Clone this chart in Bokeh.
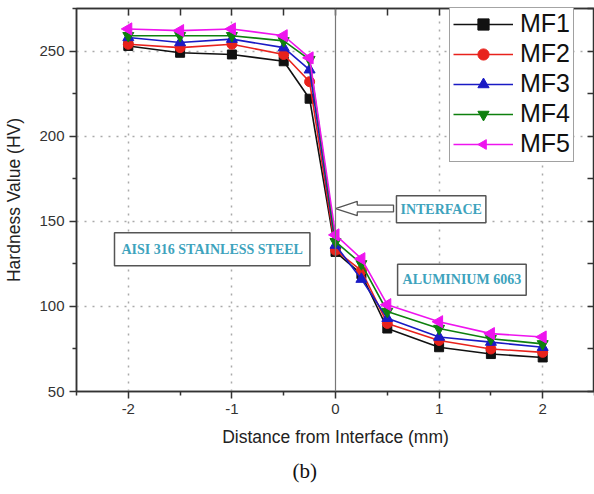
import math

from bokeh.embed import file_html
from bokeh.resources import INLINE
from bokeh.plotting import figure
from bokeh.models import (ColumnDataSource, FixedTicker, LinearAxis, Span, Label,
                          Legend, LegendItem, Title, CustomLabelingPolicy)

# Hardness profile across the AISI 316 / Al 6063 weld interface
distance = [-2, -1.5, -1, -0.5, -0.25, 0, 0.25, 0.5, 1, 1.5, 2]
mf1 = [253, 249, 248, 244, 222, 132, 119, 87, 76, 72, 70]
mf2 = [254, 252, 254, 248, 232, 133, 121, 90, 80, 75, 73]
mf3 = [258, 255, 257, 252, 239, 136, 116, 93, 82, 79, 76]
mf4 = [259, 259, 259, 256, 245, 138, 125, 97, 87, 81, 78]
mf5 = [263, 262, 263, 259, 246, 142, 128, 101, 91, 84, 82]
series_names = ["MF1", "MF2", "MF3", "MF4", "MF5"]

x_major = [-2, -1, 0, 1, 2]
x_minor = [-2.5, -1.5, -0.5, 0.5, 1.5, 2.5]
y_major = [50, 100, 150, 200, 250]
y_minor = [75, 125, 175, 225, 275]

SANS = "Liberation Sans"
SERIF = "Liberation Serif"
AXIS = "#333333"
TEAL = "#3ea3bd"
BOX = "#555555"

p = figure(width=594, height=494, x_range=(-2.5, 2.5), y_range=(50, 275),
           output_backend="svg", toolbar_location=None,
           min_border_left=76, min_border_right=0, min_border_top=8,
           min_border_bottom=103)
p.outline_line_color = AXIS
p.outline_line_width = 1.5

# bottom axis (plain hyphen for negative labels)
xa = p.xaxis[0]
xa.ticker = FixedTicker(ticks=x_major, minor_ticks=x_minor)
xa.major_label_overrides = {t: str(t) for t in x_major}
xa.axis_label = "Distance from Interface (mm)"
# left axis
ya = p.yaxis[0]
ya.ticker = FixedTicker(ticks=y_major, minor_ticks=y_minor)
ya.axis_label = "Hardness Value (HV)"
for ax in (xa, ya):
    ax.axis_line_color = AXIS
    ax.axis_line_width = 1.5
    ax.major_tick_line_color = AXIS
    ax.minor_tick_line_color = AXIS
    ax.major_tick_line_width = 1.5
    ax.minor_tick_line_width = 1.5
    ax.major_tick_in = 0
    ax.major_tick_out = 7
    ax.minor_tick_in = 0
    ax.minor_tick_out = 4
    ax.major_label_text_font = SANS
    ax.major_label_text_font_size = "15px"
    ax.major_label_text_color = "#333333"
    ax.axis_label_text_font = SANS
    ax.axis_label_text_font_size = "17.5px"
    ax.axis_label_text_font_style = "normal"
    ax.axis_label_text_color = "#222222"
xa.major_label_standoff = 5
xa.axis_label_standoff = 10
ya.major_label_standoff = 5
ya.axis_label_standoff = 12

# top and right frame axes: inward ticks only, their labels are suppressed
no_labels = CustomLabelingPolicy(code="return new Set()")
frame_axis = dict(major_label_text_font_size="0px", major_label_standoff=0,
                  major_label_policy=no_labels,
                  major_tick_in=7, major_tick_out=0, axis_line_color=AXIS,
                  axis_line_width=1.5, major_tick_line_color=AXIS,
                  major_tick_line_width=1.5)
top = LinearAxis(ticker=FixedTicker(ticks=[-2, -1.5, -1, -0.5, 0, 0.5, 1, 1.5, 2], minor_ticks=[]),
                 **frame_axis)
right = LinearAxis(ticker=FixedTicker(ticks=y_major + y_minor, minor_ticks=[]), **frame_axis)
p.add_layout(top, "above")
p.add_layout(right, "right")

# dotted grid
p.xgrid.ticker = FixedTicker(ticks=[-2, -1, 1, 2])
p.ygrid.ticker = FixedTicker(ticks=[100, 150, 200, 250])
for g in (p.xgrid[0], p.ygrid[0]):
    g.grid_line_color = "#aaaaaa"
    g.grid_line_dash = "2 6"
    g.grid_line_width = 1.5
p.add_layout(Span(location=0, dimension="height", line_color="#777777", line_width=1.2))

# caption below the axis title
p.add_layout(Title(text="(b)", align="left", offset=216, standoff=14,
                   text_font=SERIF, text_font_size="21px", text_font_style="normal",
                   text_color="#111111"), "below")

src = ColumnDataSource(dict(x=distance, MF1=mf1, MF2=mf2, MF3=mf3, MF4=mf4, MF5=mf5))
colors = ["#111111", "#e8221c", "#1a1ac4", "#0e800e", "#ee14ee"]
markers = ["square", "circle", "triangle", "inverted_triangle", None]
sizes = [9, 10, 11, 11, None]

items = []
for name, col, mk, sz in zip(series_names, colors, markers, sizes):
    ln = p.line("x", name, source=src, line_color=col, line_width=1.6)
    if mk is None:
        # left-pointing triangle
        sc = p.ngon("x", name, radius=7, radius_units="screen", n=3, angle=math.pi / 2,
                    source=src, fill_color=col, line_color=col)
    else:
        sc = p.scatter("x", name, source=src, marker=mk, size=sz,
                       fill_color=col, line_color=col)
    items.append(LegendItem(label=name, renderers=[ln, sc]))

legend = Legend(items=items, location=(373, 229), margin=0, padding=3, spacing=1,
                glyph_width=60, glyph_height=28, label_standoff=7,
                label_text_font=SANS, label_text_font_size="25px",
                label_text_color="#111111", border_line_color="#444444",
                border_line_width=1, background_fill_alpha=1)
p.add_layout(legend)

# hollow arrow pointing at the interface
tip_x, tip_y = 0.0, 157.5
head_len, head_half, body_half, body_end = 0.21, 4.2, 2.0, 0.56
ax_pts = [tip_x, tip_x + head_len, tip_x + head_len, body_end, body_end,
          tip_x + head_len, tip_x + head_len]
ay_pts = [tip_y, tip_y + head_half, tip_y + body_half, tip_y + body_half,
          tip_y - body_half, tip_y - body_half, tip_y - head_half]
p.patch(ax_pts, ay_pts, fill_color="white", line_color=BOX, line_width=1.3)

# region labels
def region_label(x, y, text, pad):
    p.add_layout(Label(x=x, y=y, text=text, text_align="center", text_baseline="middle",
                       text_font=SERIF, text_font_size="14px", text_font_style="bold",
                       text_color=TEAL, background_fill_color="white",
                       border_line_color=BOX, border_line_width=1.5, padding=pad))

region_label(-1.19, 133.5, "AISI 316 STAINLESS STEEL", (7, 9))
region_label(1.02, 157.0, "INTERFACE", (4, 6))
region_label(1.22, 115.6, "ALUMINIUM 6063", (5, 8))

open("out.html", "w").write(file_html(p, INLINE))
